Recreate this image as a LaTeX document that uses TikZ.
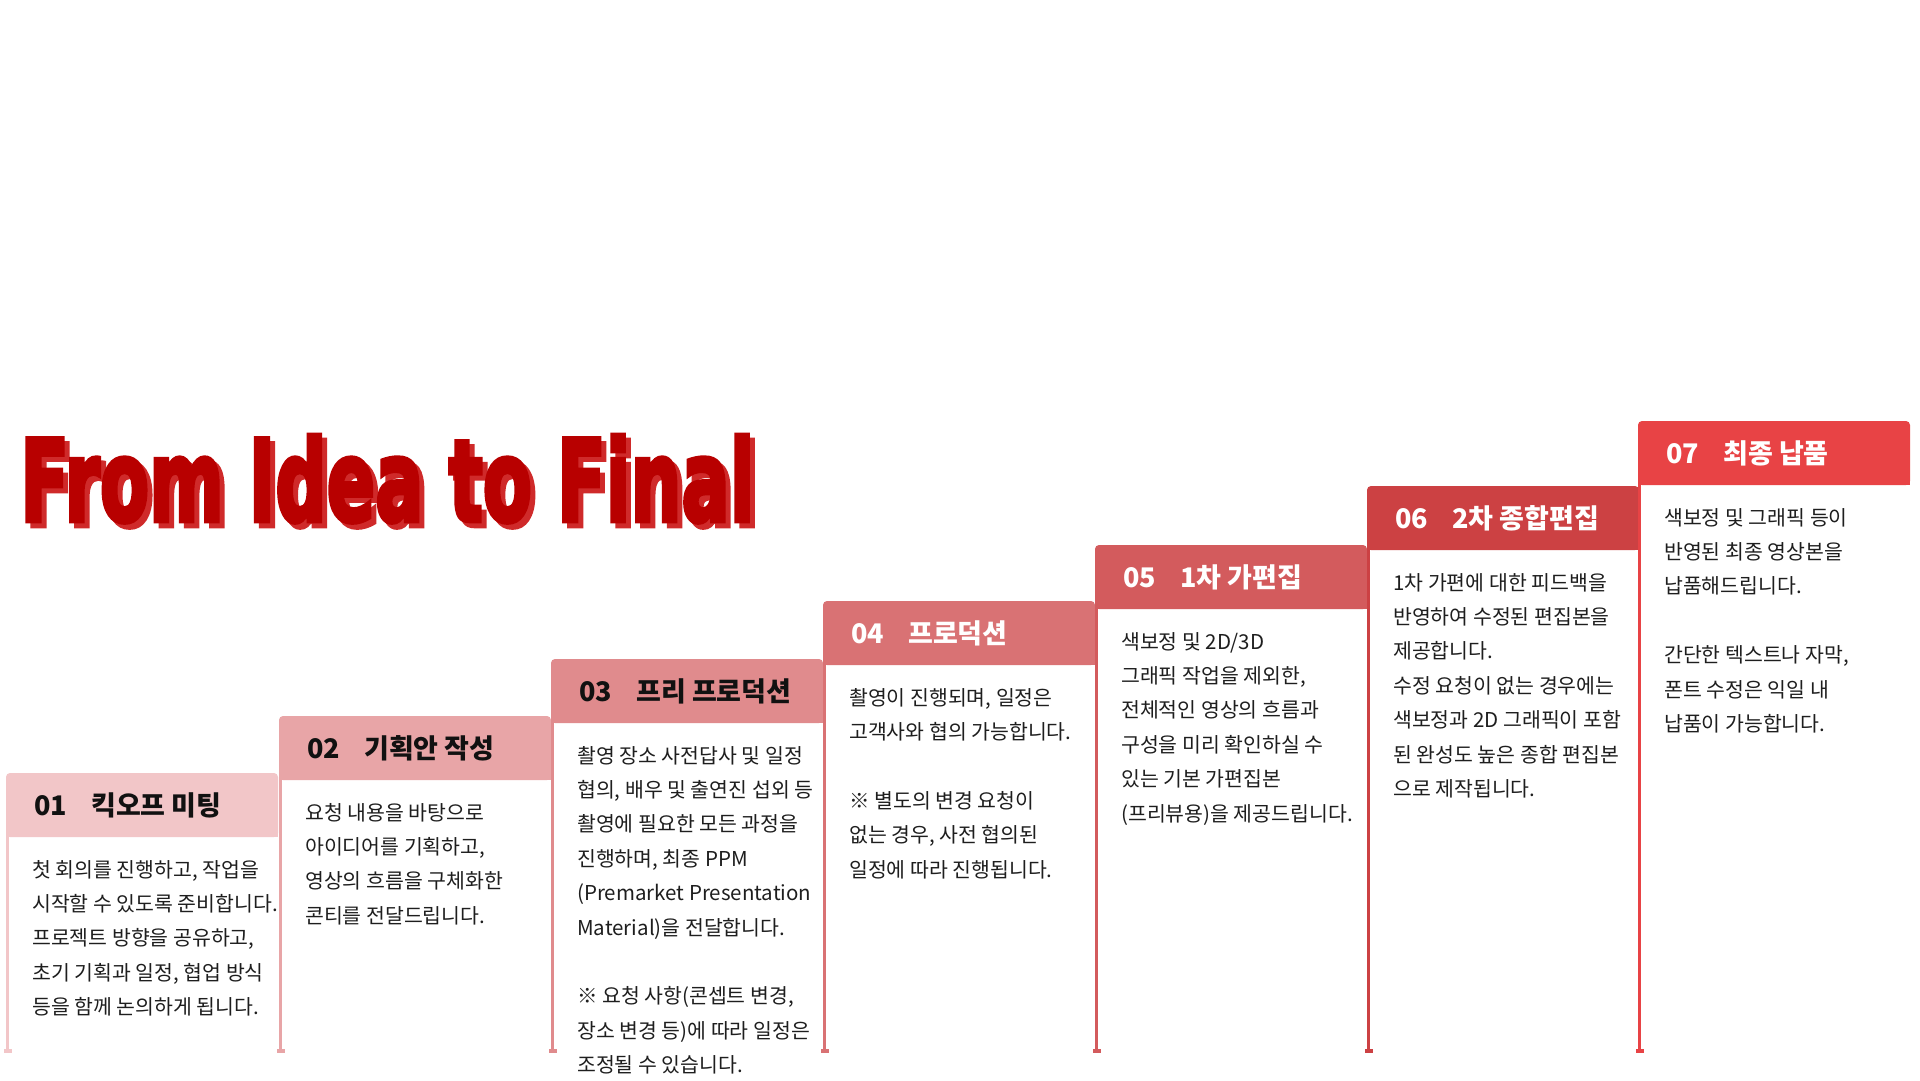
\documentclass[tikz,border=0pt]{standalone}
\usepackage{fontspec}
\usepackage{graphicx}
\setmainfont{Noto Sans CJK KR}
\newfontfamily\titlefont{DejaVu Sans}[BoldFeatures={FakeBold=4}]
\definecolor{cA}{HTML}{F2C6C8}
\definecolor{cB}{HTML}{E8A5A7}
\definecolor{cC}{HTML}{E08B8D}
\definecolor{cD}{HTML}{D97274}
\definecolor{cE}{HTML}{D35B5D}
\definecolor{cF}{HTML}{CC4143}
\definecolor{cG}{HTML}{E84345}
\definecolor{titlered}{HTML}{B80000}
\definecolor{titleshadow}{HTML}{CF2A2A}
\definecolor{bodytext}{HTML}{1E1E1E}
\definecolor{hddark}{HTML}{111111}
\newcommand{\TitleBox}{\resizebox{734pt}{86pt}{\titlefont\bfseries From Idea to Final}}
\newcommand{\TitleArt}{\rlap{\kern5pt\raisebox{-5pt}{\color{titleshadow}\TitleBox}}{\color{titlered}\TitleBox}}
\newcommand{\StepCol}[8]{%
  \fill[#4, rounded corners=4pt] (#2,#3) rectangle ++(272,64);
  \fill[#4] (#2,#3+20) rectangle ++(272,44);
  \node[hdtext, text=#5] (num#1) at (#2+28,#3+42) {#6};
  \node[hdtext, text=#5] (title#1) at (#2+85,#3+42) {#7};
  \draw[line width=3pt, #4] (#2+1.5,#3+64) -- (#2+1.5,1051);
  \fill[#4] (#2-2.5,1049) rectangle (#2+5.5,1053);
  \foreach \t [count=\i] in {#8} {\node[bodyline] (b#1-\i) at (#2+26,#3+104+34.4*\i-34.4) {\t};}
}
\begin{document}
\begin{tikzpicture}[x=1pt,y=-1pt,
  hdtext/.style={anchor=base west, inner sep=0pt, font=\fontsize{27pt}{32pt}\selectfont\bfseries},
  bodyline/.style={anchor=base west, inner sep=0pt, font=\fontsize{20.5pt}{24pt}\selectfont, text=bodytext},
  ttl/.style={anchor=base west, inner sep=0pt}]
\useasboundingbox[fill=white] (0,0) rectangle (1920,1080);
% title with offset shadow
\node[ttl] (title) at (20,521) {\TitleArt};
% columns
\StepCol{1}{6}{773}{cA}{hddark}{01}{킥오프 미팅}{{첫 회의를 진행하고, 작업을},{시작할 수 있도록 준비합니다.},{프로젝트 방향을 공유하고,},{초기 기획과 일정, 협업 방식},{등을 함께 논의하게 됩니다.}}
\StepCol{2}{279}{716}{cB}{hddark}{02}{기획안 작성}{{요청 내용을 바탕으로},{아이디어를 기획하고,},{영상의 흐름을 구체화한},{콘티를 전달드립니다.}}
\StepCol{3}{551}{659}{cC}{hddark}{03}{프리 프로덕션}{{촬영 장소 사전답사 및 일정},{협의, 배우 및 출연진 섭외 등},{촬영에 필요한 모든 과정을},{진행하며, 최종 PPM},{(Premarket Presentation},{Material)을 전달합니다.},{},{※ 요청 사항(콘셉트 변경,},{장소 변경 등)에 따라 일정은},{조정될 수 있습니다.}}
\StepCol{4}{823}{601}{cD}{white}{04}{프로덕션}{{촬영이 진행되며, 일정은},{고객사와 협의 가능합니다.},{},{※ 별도의 변경 요청이},{없는 경우, 사전 협의된},{일정에 따라 진행됩니다.}}
\StepCol{5}{1095}{545}{cE}{white}{05}{1차 가편집}{{색보정 및 2D/3D},{그래픽 작업을 제외한,},{전체적인 영상의 흐름과},{구성을 미리 확인하실 수},{있는 기본 가편집본},{(프리뷰용)을 제공드립니다.}}
\StepCol{6}{1367}{486}{cF}{white}{06}{2차 종합편집}{{1차 가편에 대한 피드백을},{반영하여 수정된 편집본을},{제공합니다.},{수정 요청이 없는 경우에는},{색보정과 2D 그래픽이 포함},{된 완성도 높은 종합 편집본},{으로 제작됩니다.}}
\StepCol{7}{1638}{421}{cG}{white}{07}{최종 납품}{{색보정 및 그래픽 등이},{반영된 최종 영상본을},{납품해드립니다.},{},{간단한 텍스트나 자막,},{폰트 수정은 익일 내},{납품이 가능합니다.}}
\end{tikzpicture}
\end{document}
